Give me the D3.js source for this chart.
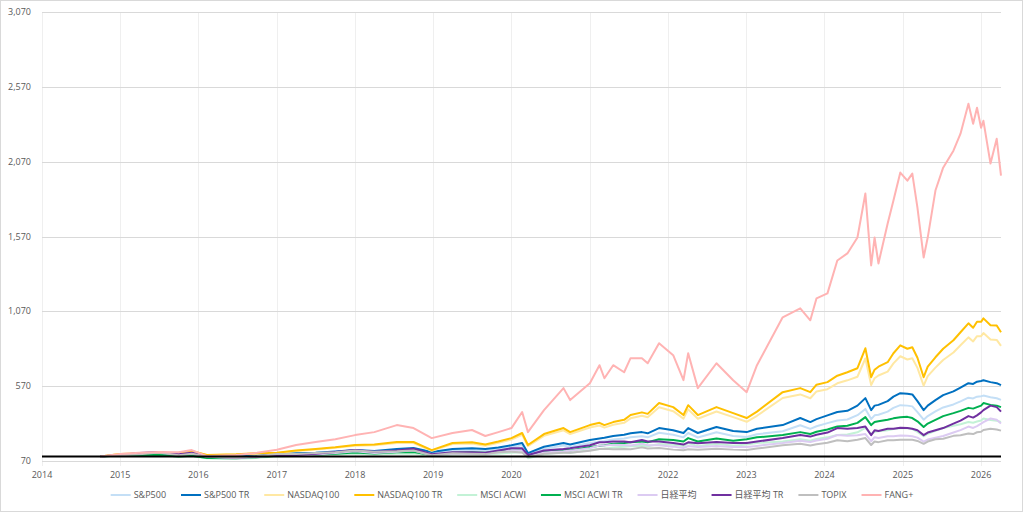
<!DOCTYPE html>
<html>
<head>
<meta charset="utf-8">
<script src="https://cdn.jsdelivr.net/npm/d3@7"></script>
<style>
  html, body { margin: 0; padding: 0; background: #fff; }
  svg { display: block; font-family: "Open Sans", "Noto Sans CJK JP", sans-serif; }
</style>
</head>
<body>
<svg id="chart" width="1024" height="513"></svg>
<script>
const dates = ["2014-10-01","2015-01-01","2015-04-01","2015-07-01","2015-10-01","2015-12-01","2016-02-10","2016-06-25","2016-10-01","2017-01-01","2017-04-01","2017-07-01","2017-10-01","2018-01-01","2018-04-01","2018-07-15","2018-10-01","2018-12-25","2019-04-01","2019-07-01","2019-09-01","2019-11-01","2020-01-01","2020-02-20","2020-03-18","2020-06-01","2020-08-31","2020-10-01","2021-01-01","2021-02-15","2021-03-10","2021-04-20","2021-06-10","2021-07-10","2021-09-01","2021-09-28","2021-11-20","2022-01-25","2022-03-14","2022-04-05","2022-05-20","2022-08-15","2022-11-01","2023-01-03","2023-02-20","2023-06-20","2023-09-10","2023-10-27","2023-11-25","2024-01-15","2024-03-01","2024-04-17","2024-06-03","2024-07-10","2024-08-06","2024-08-22","2024-09-09","2024-10-22","2024-11-18","2024-12-20","2025-01-22","2025-02-14","2025-03-10","2025-04-08","2025-04-27","2025-06-02","2025-07-08","2025-08-25","2025-09-27","2025-11-03","2025-11-25","2025-12-13","2026-01-01","2026-01-12","2026-02-14","2026-03-15","2026-04-04"];

const sp500 = [100,112,112,114,106,113,98,97,102,116,117,120,127,136,130,141,148,122,140,144,139,148,161,175,113,151,173,164,190,199,203,214,220,229,236,228,259,245,228,257,227,262,237,230,249,269,309,285,302,323,341,347,376,418,350,375,379,400,425,443,440,435,397,346,370,401,428,448,468,493,488,500,503,507,496,489,478];
const sp500tr = [100,112,113,115,108,115,100,100,105,120,122,125,133,143,137,150,157,130,150,155,150,160,175,190,123,165,190,180,210,220,225,237,245,255,263,255,290,275,257,290,257,297,270,263,285,310,357,330,350,375,397,405,440,490,410,440,445,470,500,523,520,515,470,410,440,477,510,535,560,590,585,600,605,610,597,590,577];
const nasdaq100 = [100,117,120,122,124,136,109,113,120,123,137,147,158,172,175,191,190,138,183,187,172,191,213,245,169,238,275,250,294,307,293,312,325,355,372,362,429,403,353,415,352,401,363,332,372,491,515,489,535,550,589,609,633,755,577,623,641,667,722,770,748,757,692,573,637,694,745,795,843,896,869,904,904,925,882,879,839];
const nasdaq100tr = [100,117,120,123,125,137,110,115,122,125,140,150,162,177,180,197,197,143,190,195,180,200,223,257,177,250,290,263,310,325,310,330,345,377,395,385,457,430,377,443,377,430,390,357,400,530,557,530,580,597,640,663,690,823,630,680,700,730,790,843,820,830,760,630,700,763,820,877,930,990,960,1000,1000,1023,977,975,930];
const acwi = [100,106,109,108,98,103,88,85,91,100,103,106,111,119,112,118,120,101,114,116,113,119,125,129,89,115,128,123,143,150,152,161,165,169,172,168,184,179,170,190,169,185,172,180,190,201,216,205,217,228,244,247,262,292,249,265,268,276,283,289,290,283,265,235,252,272,290,305,316,331,326,334,341,354,344,339,331];
const acwitr = [100,107,110,110,100,105,90,88,95,105,108,112,118,127,120,128,130,110,125,128,125,133,140,145,100,130,145,140,163,172,175,185,190,195,200,195,215,210,200,223,200,220,205,215,228,243,263,250,265,280,300,305,325,363,310,330,335,345,355,363,365,357,335,297,320,345,370,390,405,425,420,430,440,457,445,440,430];
const nikkei = [100,110,122,128,113,123,98,89,97,108,105,113,123,135,124,131,142,107,118,118,115,128,141,141,100,127,135,139,156,174,174,178,177,173,185,176,176,166,157,170,164,171,164,163,171,190,206,197,207,219,244,239,242,250,202,229,224,236,236,241,239,235,226,200,213,225,237,260,276,300,291,303,319,330,354,345,321];
const nikkeitr = [100,110,123,130,115,125,100,92,100,112,110,118,130,143,132,140,152,115,128,128,125,140,155,155,110,140,150,155,175,195,195,200,200,195,210,200,200,190,180,195,188,197,190,190,200,223,243,233,245,260,290,285,290,300,243,275,270,285,285,292,290,285,275,243,260,275,290,320,340,370,360,375,395,410,440,430,400];
const topix = [100,108,115,127,108,119,100,92,102,117,116,124,129,140,132,135,140,109,122,119,116,129,132,127,96,119,125,125,138,150,152,148,150,148,161,153,157,146,142,148,145,152,146,144,153,176,185,173,182,192,208,202,212,223,177,200,196,208,208,212,212,212,204,185,200,215,219,238,242,254,250,262,265,277,285,281,273];
const fang = [100,117,125,130,128,143,103,110,125,145,177,197,215,243,263,310,290,223,257,277,237,263,290,397,263,410,557,477,590,710,623,710,663,757,757,723,857,777,610,790,557,723,610,530,710,1030,1090,1010,1157,1190,1410,1457,1563,1857,1377,1563,1390,1657,1810,1997,1943,1990,1763,1430,1563,1877,2030,2143,2257,2457,2323,2430,2297,2343,2057,2223,1977];

const seriesNames = ["S&P500","S&P500 TR","NASDAQ100","NASDAQ100 TR","MSCI ACWI","MSCI ACWI TR","日経平均","日経平均 TR","TOPIX","FANG+"];
const seriesValues = [sp500, sp500tr, nasdaq100, nasdaq100tr, acwi, acwitr, nikkei, nikkeitr, topix, fang];
const seriesColors = ["#c4dff6","#0070c0","#ffe8a3","#ffc000","#c3f2d6","#00b050","#dccbf2","#7030a0","#bfbfbf","#ffb3b3"];

const yTicks = [70,570,1070,1570,2070,2570,3070];
const xTickYears = [2014,2015,2016,2017,2018,2019,2020,2021,2022,2023,2024,2025,2026];
const baseValue = 100;

const svg = d3.select("#chart");
const W = 1024, H = 513;
const L = 42, R = 1001, T = 12, B = 461;

svg.append("rect").attr("x",0.5).attr("y",0.5).attr("width",W-2).attr("height",H-2)
  .attr("fill","#fff").attr("stroke","#d9d9d9");

const parse = d3.timeParse("%Y-%m-%d");
const x = d3.scaleTime().domain([new Date(2014,0,1), new Date(2026,3,4)]).range([L, R]);
const y = d3.scaleLinear().domain([70, 3070]).range([B, T]);

// vertical gridlines
svg.append("g").selectAll("line").data(xTickYears).join("line")
  .attr("x1", d => Math.round(x(new Date(d,0,1))) + 0.5)
  .attr("x2", d => Math.round(x(new Date(d,0,1))) + 0.5)
  .attr("y1", T).attr("y2", B + 5)
  .attr("stroke", "#efefef").attr("stroke-width", 1);

// horizontal gridlines
svg.append("g").selectAll("line").data(yTicks).join("line")
  .attr("x1", L).attr("x2", R)
  .attr("y1", d => Math.round(y(d)) + 0.5).attr("y2", d => Math.round(y(d)) + 0.5)
  .attr("stroke", "#d9d9d9").attr("stroke-width", 1);

// y labels
svg.append("g").selectAll("text").data(yTicks).join("text")
  .attr("x", 31).attr("y", d => y(d)).attr("dy", "0.35em")
  .attr("text-anchor", "end").attr("font-size", 9).attr("fill", "#595959")
  .text(d => d3.format(",")(d));

// x labels
svg.append("g").selectAll("text").data(xTickYears).join("text")
  .attr("x", d => x(new Date(d,0,1))).attr("y", 478)
  .attr("text-anchor", "middle").attr("font-size", 9).attr("fill", "#595959")
  .text(d => d);

const pDates = dates.map(parse);
const line = d3.line().x((d,i) => x(pDates[i])).y(d => y(d));

const g = svg.append("g");
seriesValues.forEach((vals, k) => {
  g.append("path").datum(vals)
    .attr("d", line)
    .attr("fill", "none")
    .attr("stroke", seriesColors[k])
    .attr("stroke-width", 2)
    .attr("stroke-linejoin", "round");
});

// base line at 100
svg.append("line")
  .attr("x1", L).attr("x2", R)
  .attr("y1", y(baseValue)).attr("y2", y(baseValue))
  .attr("stroke", "#000").attr("stroke-width", 2);

// legend
const leg = svg.append("g");
let cx = 0;
const ly = 495;
seriesNames.forEach((name, k) => {
  leg.append("line").attr("x1", cx).attr("x2", cx + 20).attr("y1", ly).attr("y2", ly)
    .attr("stroke", seriesColors[k]).attr("stroke-width", 2);
  const t = leg.append("text").attr("x", cx + 23).attr("y", ly).attr("dy", "0.35em")
    .attr("font-size", 9).attr("fill", "#595959").text(name);
  cx += 23 + t.node().getComputedTextLength() + 15;
});
const totalW = cx - 15;
leg.attr("transform", `translate(${512 - totalW/2},0)`);
</script>
</body>
</html>
